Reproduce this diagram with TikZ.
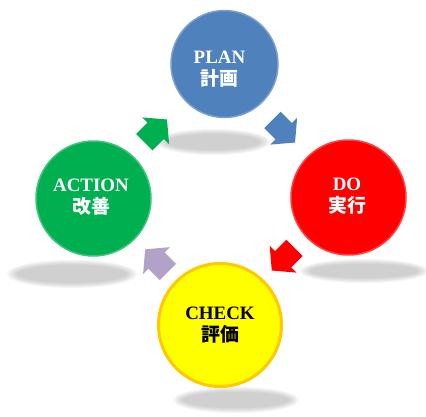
\documentclass[tikz,border=0pt]{standalone}
\usepackage{fontspec}
\setmainfont{Liberation Serif}
\newfontfamily\jpfont{Noto Sans CJK JP}
\definecolor{planblue}{RGB}{79,129,189}
\definecolor{dored}{RGB}{255,0,0}
\definecolor{actgreen}{RGB}{0,176,80}
\definecolor{chkyellow}{RGB}{255,255,0}
\definecolor{chkring}{RGB}{255,200,0}
\definecolor{arrpurple}{RGB}{179,162,199}
\definecolor{shadowgray}{RGB}{160,160,160}
\tikzset{
  phase/.style={circle, inner sep=0pt, line width=1.5bp},
  lbl/.style={align=center, inner sep=0pt, font=\fontsize{19}{21}\selectfont\bfseries},
}
\newcommand\cycshadow[4]{%
  \foreach \k in {0,...,5}{%
    \fill[shadowgray, opacity=0.1] (#1,#2) ellipse [x radius={#3-\k*2}, y radius={#4-\k*1}];
  }%
}
\newcommand\cycarrow[4]{%
  \fill[#1, shift={(#2,#3)}, rotate=#4]
    (0,0) -- (-16,19) -- (-16,11.5) -- (-32,11.5) -- (-32,-11.5) -- (-16,-11.5) -- (-16,-19) -- cycle;
}
\begin{document}
\begin{tikzpicture}[x=1bp, y=-1bp]
  \fill[white] (0,0) rectangle (426,417);
  \useasboundingbox (0,0) rectangle (426,417);
  % shadows
  \cycshadow{213}{142}{57}{13}
  \cycshadow{364}{271}{64}{12}
  \cycshadow{72}{274}{65}{14}
  \cycshadow{236}{400}{63}{13}
  % phases
  \node[phase, fill=planblue, draw=planblue!75!white, minimum size=107bp] (plan) at (224.5,64) {};
  \node[phase, fill=dored, draw=dored!75!white, minimum size=115bp] (do) at (348.5,197.5) {};
  \node[phase, fill=actgreen, draw=actgreen!75!white, minimum size=115bp] (action) at (93.5,198.5) {};
  \node[phase, fill=chkyellow, draw=chkring, line width=3bp, minimum size=123bp] (check) at (220,325) {};
  % labels
  \node[lbl, text=white] (plantxt) at (219.5,69) {PLAN\\[1bp]{\jpfont\bfseries 計画}};
  \node[lbl, text=white] (dotxt) at (347,196.5) {DO\\[1bp]{\jpfont\bfseries 実行}};
  \node[lbl, text=white] (actiontxt) at (91,197) {ACTION\\[1bp]{\jpfont\bfseries 改善}};
  \node[lbl, text=black] (checktxt) at (220,325.5) {CHECK\\[1bp]{\jpfont\bfseries 評価}};
  % arrows
  \cycarrow{actgreen}{167}{119.5}{45}
  \cycarrow{planblue}{295}{142.5}{-45}
  \cycarrow{dored}{271.8}{270.5}{-135}
  \cycarrow{arrpurple}{145.2}{249.3}{135}
\end{tikzpicture}
\end{document}
